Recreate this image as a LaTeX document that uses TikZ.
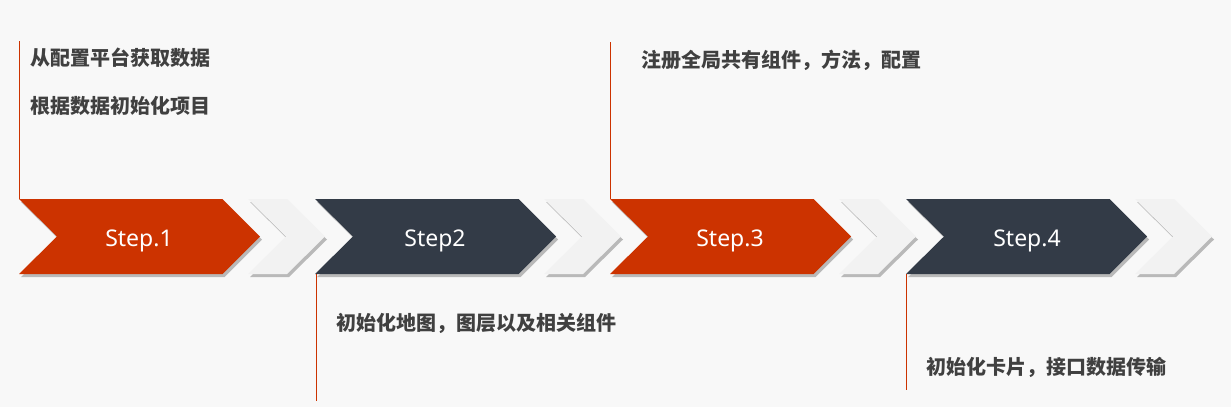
\documentclass[tikz,border=0pt]{standalone}
\usepackage{fontspec}
\setmainfont{Noto Sans}
\newfontfamily\cjk{Noto Sans CJK SC}
\usetikzlibrary{shadows}
\definecolor{bg}{HTML}{F8F8F8}
\definecolor{stepred}{HTML}{CC3300}
\definecolor{stepdark}{HTML}{333B47}
\definecolor{chevgrey}{HTML}{F2F2F2}
\definecolor{txt}{HTML}{404040}
\newcommand\bigchev[2]{%
  \fill[#2,chevshadow] (#1,199) -- ++(203.5,0) -- ++(37.5,37.5) -- ++(-37.5,37.5) -- ++(-203.5,0) -- ++(38,-37.5) -- cycle;}
\newcommand\smallchev[1]{%
  \fill[chevgrey,chevshadow] (#1,199) -- ++(39,0) -- ++(38,37.5) -- ++(-38,37.5) -- ++(-39,0) -- ++(38,-37.5) -- cycle;}
\begin{document}
\begin{tikzpicture}[x=1pt,y=-1pt,
  chevshadow/.style={drop shadow={shadow xshift=2pt,shadow yshift=-3pt,opacity=0.25,fill=black}},
  steplabel/.style={text=white,font=\fontsize{23}{26}\selectfont,inner sep=0,anchor=base},
  desc/.style={text=txt,font=\cjk\bfseries\fontsize{20}{22}\selectfont,anchor=west,inner sep=0},
  leader/.style={draw=stepred,line width=1pt}]
\fill[bg] (0,0) rectangle (1231,407);
\useasboundingbox (0,0) rectangle (1231,407);
% chevrons
\bigchev{19}{stepred}
\smallchev{248}
\bigchev{315}{stepdark}
\smallchev{544}
\bigchev{610}{stepred}
\smallchev{839}
\bigchev{906}{stepdark}
\smallchev{1135}
% step labels
\node[steplabel] (s1) at (139,246.5) {Step.1};
\node[steplabel] (s2) at (435,246.5) {Step2};
\node[steplabel] (s3) at (730,246.5) {Step.3};
\node[steplabel] (s4) at (1027,246.5) {Step.4};
% leader line ends
\coordinate (l1a) at (19,41);
\coordinate (l1b) at (19,199);
\coordinate (l2a) at (316,274);
\coordinate (l2b) at (316,401);
\coordinate (l3a) at (610,42);
\coordinate (l3b) at (610,199);
\coordinate (l4a) at (906,274);
\coordinate (l4b) at (906,390);
\draw[leader] (l1a) -- (l1b);
\draw[leader] (l2a) -- (l2b);
\draw[leader] (l3a) -- (l3b);
\draw[leader] (l4a) -- (l4b);
% descriptions
\node[desc] (t1a) at (30,58) {从配置平台获取数据};
\node[desc] (t1b) at (30,106) {根据数据初始化项目};
\node[desc] (t2) at (336,323) {初始化地图，图层以及相关组件};
\node[desc] (t3) at (641,60) {注册全局共有组件，方法，配置};
\node[desc] (t4) at (926,367) {初始化卡片，接口数据传输};
\end{tikzpicture}
\end{document}
